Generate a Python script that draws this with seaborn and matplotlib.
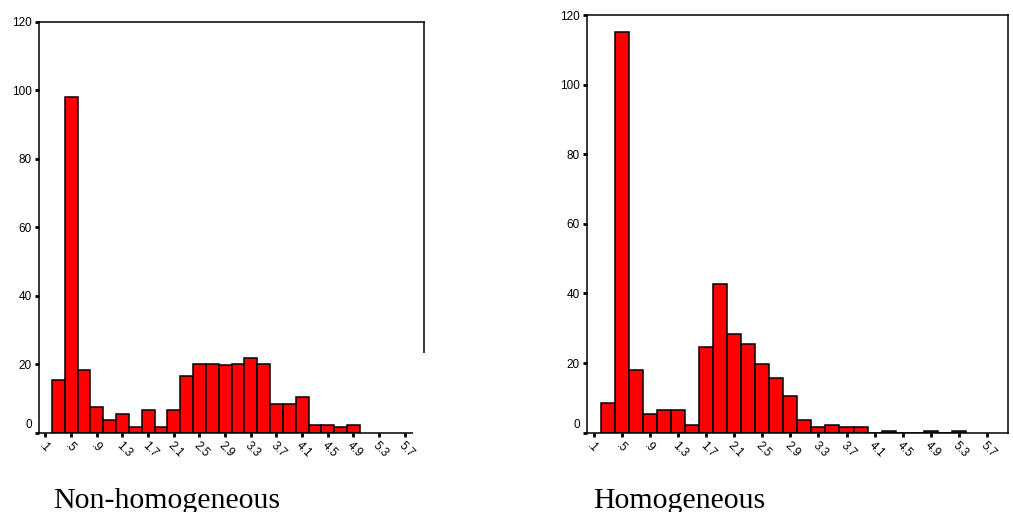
# ==========================================
# Histograms: Non-homogeneous vs Homogeneous
# ==========================================

import matplotlib
matplotlib.use("Agg")

import matplotlib.pyplot as plt
import matplotlib.transforms as mtransforms
import pandas as pd
import seaborn as sns
from matplotlib.patches import Rectangle

# ==========================================
# Data
# ==========================================

# bin centres, bins are 0.2 wide
left_centres = [0.3, 0.5, 0.7, 0.9, 1.1, 1.3, 1.5, 1.7, 1.9, 2.1, 2.3, 2.5,
                2.7, 2.9, 3.1, 3.3, 3.5, 3.7, 3.9, 4.1, 4.3, 4.5, 4.7, 4.9]
left_counts = [15.5, 98, 18.4, 7.6, 3.7, 5.6, 1.7, 6.5, 1.7, 6.5, 16.5, 20.2,
               20.2, 19.7, 20.2, 21.7, 20.2, 8.3, 8.3, 10.4, 2.3, 2.3, 1.7, 2.3]

right_centres = [0.3, 0.5, 0.7, 0.9, 1.1, 1.3, 1.5, 1.7, 1.9, 2.1, 2.3, 2.5, 2.7,
                 2.9, 3.1, 3.3, 3.5, 3.7, 3.9, 4.1, 4.3, 4.5, 4.7, 4.9, 5.1, 5.3]
right_counts = [8.4, 115, 17.9, 5.5, 6.4, 6.4, 2.3, 24.6, 42.6, 28.4, 25.4, 19.8, 15.6,
                10.4, 3.6, 1.7, 2.3, 1.7, 1.7, 0, 0.4, 0, 0, 0.4, 0, 0.4]

x_tick_values = [0.1, 0.5, 0.9, 1.3, 1.7, 2.1, 2.5, 2.9, 3.3, 3.7, 4.1, 4.5, 4.9, 5.3, 5.7]
x_tick_labels = [".1", ".5", ".9", "1.3", "1.7", "2.1", "2.5", "2.9", "3.3", "3.7",
                 "4.1", "4.5", "4.9", "5.3", "5.7"]
y_tick_values = [0, 20, 40, 60, 80, 100, 120]

captions = ["Non-homogeneous", "Homogeneous"]

# ==========================================
# Plot helpers
# ==========================================

sns.set_style("white")
plt.rcParams["font.family"] = ["Liberation Sans", "DejaVu Sans"]
plt.rcParams["text.color"] = "black"
plt.rcParams["xtick.color"] = "black"
plt.rcParams["ytick.color"] = "black"


def draw_hist(ax, centres, counts):
    df = pd.DataFrame({"value": centres, "count": counts})

    sns.histplot(
        data=df,
        x="value",
        weights="count",
        binwidth=0.2,
        binrange=(0.2, max(centres) + 0.1),
        color="#ff0000",
        edgecolor="black",
        linewidth=1.1,
        alpha=1,
        ax=ax,
    )

    ax.set_xlim(0, 6.0)
    ax.set_ylim(0, 120)
    ax.set_xlabel("")
    ax.set_ylabel("")

    ax.set_xticks(x_tick_values)
    ax.set_xticklabels(x_tick_labels, rotation=-45, ha="left", va="top",
                       rotation_mode="anchor", fontsize=8.5)
    ax.set_yticks(y_tick_values)
    ax.set_yticklabels([str(v) for v in y_tick_values], fontsize=8.5)

    ax.tick_params(axis="both", direction="out", length=3, width=2,
                   color="black", labelcolor="black", pad=2,
                   bottom=True, left=True)

    for spine in ax.spines.values():
        spine.set_visible(True)
        spine.set_color("black")
        spine.set_linewidth(1.1)

    # the "0" label sits a little above the axis line
    lbl = ax.get_yticklabels()[0]
    lbl.set_transform(lbl.get_transform() +
                      mtransforms.ScaledTranslation(0, 9 / 100, ax.figure.dpi_scale_trans))


# ==========================================
# Figure
# ==========================================

fig = plt.figure(figsize=(10.13, 5.12), dpi=100)

ax_left = fig.add_axes([39 / 1013, 79.3 / 512, 385 / 1013, 411 / 512])
ax_right = fig.add_axes([586.7 / 1013, 79.3 / 512, 421.3 / 1013, 417.7 / 512])

draw_hist(ax_left, left_centres, left_counts)
draw_hist(ax_right, right_centres, right_counts)

# the lower right corner of the left frame is blanked out in the source
fig.add_artist(Rectangle((413 / 1013, (512 - 437) / 512), 20 / 1013, 84 / 512,
                         transform=fig.transFigure, facecolor="white",
                         edgecolor="none", zorder=5))

fig.text(53 / 1013, 4 / 512, captions[0], family=["Liberation Serif", "DejaVu Serif"],
         fontsize=21.5, va="baseline", ha="left", color="black")
fig.text(593 / 1013, 4 / 512, captions[1], family=["Liberation Serif", "DejaVu Serif"],
         fontsize=21.5, va="baseline", ha="left", color="black")

plt.savefig("out.png", dpi=100)
